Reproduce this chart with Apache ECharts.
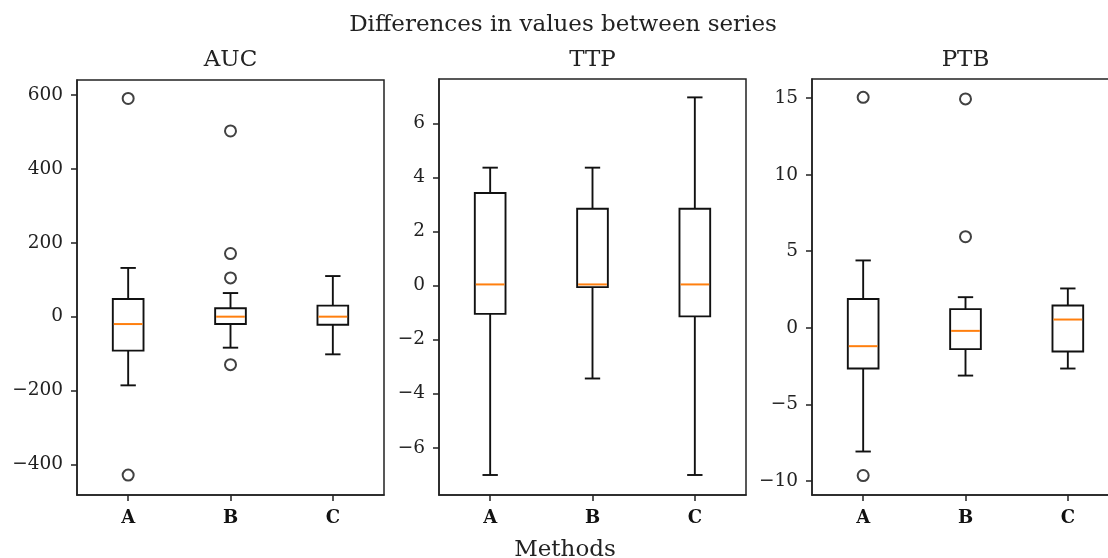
<!DOCTYPE html>
<html>
<head>
<meta charset="utf-8">
<script src="https://cdn.jsdelivr.net/npm/echarts@6/dist/echarts.min.js"></script>
<style>
    html, body { margin: 0; padding: 0; background: #fff; overflow: hidden; }
    #chart { width: 1108px; height: 558px; }
</style>
</head>
<body>
<div id="chart"></div>
<script>
// categories on the x axis
var methods = ['A', 'B', 'C'];

// box stats per method: [low whisker, q1, median, q3, high whisker]
var aucBoxes = [[-186, -92, -20, 48, 132], [-84, -20, 0, 23, 64], [-102, -22, 0, 30, 110]];
var ttpBoxes = [[-7.01, -1.05, 0.04, 3.42, 4.36], [-3.44, -0.06, 0.04, 2.84, 4.36], [-7.01, -1.14, 0.04, 2.84, 6.96]];
var ptbBoxes = [[-8.08, -2.66, -1.2, 1.88, 4.4], [-3.12, -1.39, -0.2, 1.22, 2.0], [-2.66, -1.55, 0.54, 1.46, 2.57]];

// fliers
var aucOutliers = [['A', 591], ['A', -429], ['B', 503], ['B', 171], ['B', 105], ['B', -130]];
var ttpOutliers = [];
var ptbOutliers = [['A', 15.05], ['A', -9.65], ['B', 14.95], ['B', 5.95]];

// tick labels
var aucTicks = [-400, -200, 0, 200, 400, 600];
var ttpTicks = [-6, -4, -2, 0, 2, 4, 6];
var ptbTicks = [-10, -5, 0, 5, 10, 15];

var panelNames = ['AUC', 'TTP', 'PTB'];

var fontFam = '"DejaVu Serif", serif';
var myChart = echarts.init(document.getElementById('chart'));

// draw one box with whiskers, caps half as wide as the box
function renderBox(params, api) {
    var x = api.value(0);
    var low = api.coord([x, api.value(1)]);
    var q1 = api.coord([x, api.value(2)]);
    var med = api.coord([x, api.value(3)]);
    var q3 = api.coord([x, api.value(4)]);
    var high = api.coord([x, api.value(5)]);
    var bw = api.size([1, 0])[0] * 0.3;
    var cap = bw / 4;
    var cx = low[0];
    var st = { stroke: '#111', lineWidth: 1.9, fill: null };
    return {
        type: 'group',
        children: [
            { type: 'line', shape: { x1: cx, y1: high[1], x2: cx, y2: q3[1] }, style: st },
            { type: 'line', shape: { x1: cx, y1: q1[1], x2: cx, y2: low[1] }, style: st },
            { type: 'line', shape: { x1: cx - cap, y1: high[1], x2: cx + cap, y2: high[1] }, style: st },
            { type: 'line', shape: { x1: cx - cap, y1: low[1], x2: cx + cap, y2: low[1] }, style: st },
            { type: 'rect', shape: { x: cx - bw / 2, y: q3[1], width: bw, height: q1[1] - q3[1] }, style: { stroke: '#111', lineWidth: 1.9, fill: 'rgba(0,0,0,0)' } },
            { type: 'line', shape: { x1: cx - bw / 2 + 1, y1: med[1], x2: cx + bw / 2 - 1, y2: med[1] }, style: { stroke: '#ff7f0e', lineWidth: 2 } }
        ]
    };
}

// the last panel runs past the right edge of the picture, as in the source figure
var grids = [
    { left: 77, top: 80, width: 307, height: 415 },
    { left: 439, top: 79, width: 307, height: 416 },
    { left: 812, top: 79, width: 307, height: 416 }
];
var yRanges = [[-483, 641], [-7.75, 7.64], [-10.92, 16.25]];
var tickSets = [aucTicks, ttpTicks, ptbTicks];
var boxSets = [aucBoxes, ttpBoxes, ptbBoxes];
var outSets = [aucOutliers, ttpOutliers, ptbOutliers];

var titleStyle = { fontFamily: fontFam, fontSize: 23, fontWeight: 'normal', color: '#222' };

var option = {
    backgroundColor: '#fff',
    animation: false,
    title: [{
        text: 'Differences in values between series',
        left: 563, top: 14, textAlign: 'center', padding: 0,
        textStyle: titleStyle
    }, {
        text: 'Methods',
        left: 565, top: 539, textAlign: 'center', padding: 0,
        textStyle: titleStyle
    }],
    grid: [],
    xAxis: [],
    yAxis: [],
    series: []
};

for (var i = 0; i < 3; i++) {
    var g = grids[i];
    option.title.push({
        text: panelNames[i],
        left: g.left + 153.5, top: 49, textAlign: 'center', padding: 0,
        textStyle: titleStyle
    });
    option.grid.push({
        left: g.left, top: g.top, width: g.width, height: g.height,
        outerBoundsMode: 'none',
        containLabel: false,
        show: true, borderColor: '#222', borderWidth: 1.5, backgroundColor: 'transparent'
    });
    option.xAxis.push({
        gridIndex: i,
        type: 'category',
        data: methods,
        boundaryGap: true,
        axisLine: { show: true, onZero: false, lineStyle: { color: '#222', width: 1.5 } },
        axisTick: { show: true, alignWithLabel: true, length: 6, lineStyle: { color: '#222', width: 1.5 } },
        axisLabel: { margin: 14, fontFamily: fontFam, fontSize: 18, color: '#111', fontWeight: 'bold' },
        splitLine: { show: false }
    });
    option.yAxis.push({
        gridIndex: i,
        type: 'value',
        min: yRanges[i][0],
        max: yRanges[i][1],
        axisLine: { show: true, onZero: false, lineStyle: { color: '#222', width: 1.5 } },
        axisTick: { show: true, length: 6, customValues: tickSets[i], lineStyle: { color: '#222', width: 1.5 } },
        axisLabel: {
            margin: 14, fontFamily: fontFam, fontSize: 18.5, color: '#222',
            customValues: tickSets[i],
            formatter: function (v) { return v < 0 ? '\u2212' + Math.abs(v) : String(v); }
        },
        splitLine: { show: false }
    });
    option.series.push({
        type: 'custom',
        xAxisIndex: i,
        yAxisIndex: i,
        renderItem: renderBox,
        encode: { x: 0, y: [1, 2, 3, 4, 5] },
        data: boxSets[i].map(function (b, k) { return [k].concat(b); })
    });
    option.series.push({
        type: 'scatter',
        xAxisIndex: i,
        yAxisIndex: i,
        symbol: 'emptyCircle',
        symbolSize: 11,
        itemStyle: { color: '#111', borderColor: '#111', borderWidth: 1.9 },
        data: outSets[i]
    });
}

myChart.setOption(option);
</script>
</body>
</html>
